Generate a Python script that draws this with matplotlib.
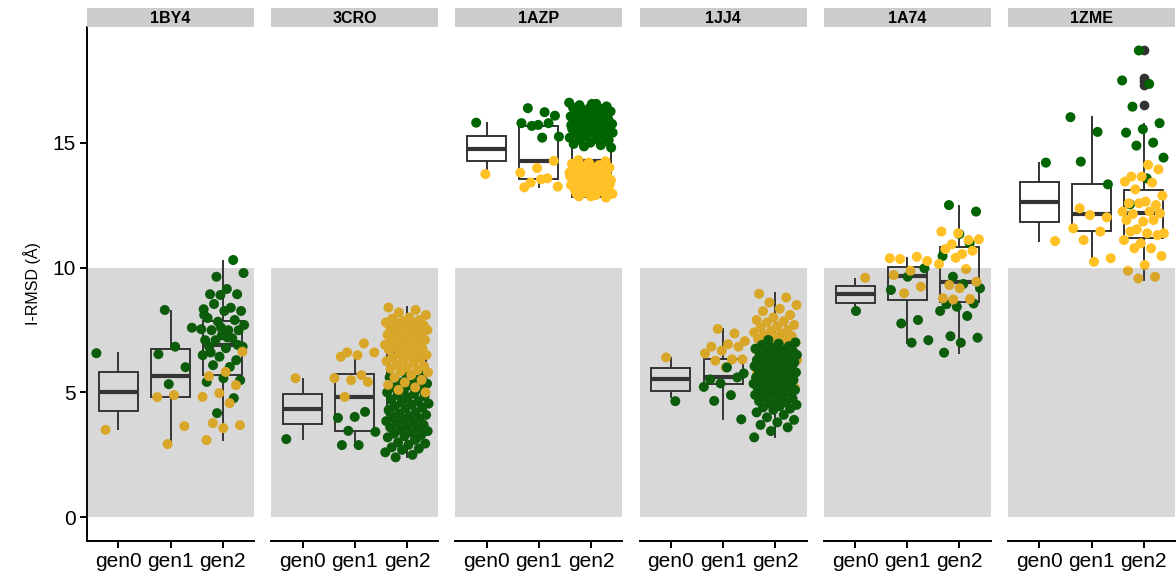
import numpy as np
import matplotlib
matplotlib.use('Agg')
import matplotlib.pyplot as plt

plt.rcParams['font.family'] = ['Liberation Sans', 'DejaVu Sans']

# 面板与分组
panels = ['1BY4', '3CRO', '1AZP', '1JJ4', '1A74', '1ZME']
gens = ['gen0', 'gen1', 'gen2']

# 箱线图统计量 (q1, median, q3, whisker low, whisker high)
box_1BY4 = [(4.25, 5.02, 5.80, 3.53, 6.57), (4.82, 5.65, 6.75, 2.93, 8.26), (5.68, 6.90, 7.86, 3.09, 10.26)]
box_3CRO = [(3.75, 4.34, 4.92, 3.15, 5.53), (3.45, 4.82, 5.73, 2.86, 6.29), (4.09, 5.17, 6.57, 2.42, 8.43)]
box_1AZP = [(14.27, 14.75, 15.27, 13.74, 15.78), (13.55, 14.27, 15.68, 13.24, 15.68), (12.84, 14.28, 15.80, 12.80, 16.65)]
box_1JJ4 = [(5.06, 5.52, 5.96, 4.80, 6.39), (5.32, 5.62, 6.33, 3.92, 7.52), (4.85, 5.70, 6.60, 3.22, 8.97)]
box_1A74 = [(8.56, 8.92, 9.26, 8.26, 9.56), (8.70, 9.67, 10.03, 6.99, 10.37), (8.63, 9.41, 10.83, 6.56, 12.46)]
box_1ZME = [(11.81, 12.64, 13.41, 11.06, 14.18), (11.48, 12.13, 13.33, 10.23, 16.02), (11.17, 12.20, 13.10, 9.50, 15.74)]
outliers_1ZME_gen2 = [16.5, 17.3, 17.45, 17.6, 18.7]

# 散点 (绿色 / 金色), 每个面板按 gen0, gen1, gen2
green_1BY4 = [[6.57],
              [8.3, 7.59, 6.83, 6.53, 6.01, 5.33],
              [10.3, 9.63, 9.78, 9.14, 8.93, 8.93, 8.9, 8.33, 8.39, 8.54, 8.26, 8.26, 7.98, 7.9, 7.83,
               7.53, 7.49, 7.49, 7.49, 7.29, 7.09, 7.17, 7.09, 6.83, 6.77, 6.83, 6.29, 6.43, 6.49, 6.02,
               6.09, 5.49, 5.57, 5.42, 4.77, 4.17, 7.7, 7.2, 6.6, 6.9, 7.6, 8.1]]
gold_1BY4 = [[3.5],
             [4.89, 4.81, 3.65, 2.93],
             [6.63, 5.82, 5.65, 5.29, 4.97, 4.82, 4.57, 3.77, 3.69, 3.57, 3.09]]

green_3CRO = [[3.13],
              [4.02, 3.98, 4.22, 3.46, 3.42, 2.89, 2.89],
              [5.8, 5.7, 5.6, 5.5, 5.4, 5.35, 5.3, 5.2, 5.15, 5.1, 5.0, 4.95, 4.9, 4.85, 4.8, 4.7, 4.65,
               4.6, 4.55, 4.5, 4.45, 4.4, 4.35, 4.3, 4.2, 4.15, 4.1, 4.05, 4.0, 3.95, 3.9, 3.85, 3.8,
               3.75, 3.7, 3.65, 3.6, 3.55, 3.5, 3.45, 3.4, 3.35, 3.3, 3.25, 3.2, 3.1, 3.0, 2.95, 2.9,
               2.8, 2.75, 2.7, 2.6, 2.5, 2.4, 5.25, 4.75, 4.25, 3.15]]
gold_3CRO = [[5.57],
             [6.96, 6.6, 6.6, 6.49, 6.43, 5.42, 5.49, 5.57, 5.69, 4.82],
             [8.4, 8.3, 8.2, 8.1, 8.0, 7.95, 7.9, 7.85, 7.8, 7.8, 7.75, 7.7, 7.7, 7.6, 7.55, 7.5, 7.5,
              7.45, 7.4, 7.35, 7.3, 7.3, 7.2, 7.15, 7.1, 7.05, 7.0, 7.0, 6.95, 6.9, 6.85, 6.8, 6.75,
              6.7, 6.7, 6.6, 6.55, 6.5, 6.45, 6.4, 6.35, 6.3, 6.25, 6.2, 6.1, 6.05, 6.0, 5.95, 5.9,
              5.85, 5.8, 5.7, 5.6, 5.5, 5.4, 5.3, 5.2, 5.1, 5.0]]

green_1AZP = [[15.8],
              [16.22, 16.38, 16.08, 15.71, 15.78, 15.78, 15.67, 15.24, 15.2],
              [16.6, 16.55, 16.5, 16.45, 16.4, 16.4, 16.35, 16.3, 16.25, 16.2, 16.2, 16.15,
               16.1, 16.05, 16.0, 16.0, 15.95, 15.9, 15.85, 15.8, 15.8, 15.75, 15.7,
               15.65, 15.6, 15.6, 15.55, 15.5, 15.45, 15.4, 15.4, 15.35, 15.3, 15.25, 15.2,
               15.15, 15.1, 15.05, 15.0, 14.95, 14.9, 14.85, 14.8, 16.45, 16.3, 16.1,
               15.9, 15.7, 15.5, 15.3, 15.1, 16.55, 16.0, 15.8, 15.6, 15.4]]
gold_1AZP = [[13.74],
             [14.27, 13.98, 13.8, 13.57, 13.4, 13.24, 13.53, 13.21],
             [14.3, 14.25, 14.2, 14.15, 14.1, 14.05, 14.0, 14.0, 13.95, 13.9, 13.85,
              13.8, 13.75, 13.7, 13.7, 13.65, 13.6, 13.55, 13.5, 13.5, 13.45, 13.4,
              13.35, 13.3, 13.3, 13.25, 13.2, 13.15, 13.1, 13.1, 13.05, 13.0, 12.95, 12.9,
              12.85, 12.8, 14.15, 13.95, 13.75, 13.55, 13.35, 13.15, 12.95, 14.05, 13.85, 13.65,
              13.45, 13.25, 13.05, 12.85]]

green_1JJ4 = [[4.65],
              [5.76, 6.0, 5.52, 5.6, 5.36, 5.22, 4.89, 4.66, 3.92],
              [7.1, 7.0, 6.95, 6.9, 6.85, 6.8, 6.75, 6.7, 6.7, 6.65, 6.6, 6.6, 6.55, 6.5, 6.5, 6.45,
               6.4, 6.4, 6.35, 6.3, 6.3, 6.25, 6.2, 6.2, 6.15, 6.1, 6.1, 6.05, 6.0, 6.0, 5.95, 5.9, 5.9,
               5.85, 5.8, 5.8, 5.75, 5.7, 5.7, 5.65, 5.6, 5.6, 5.55, 5.5, 5.5, 5.45, 5.4, 5.4, 5.35,
               5.3, 5.3, 5.25, 5.2, 5.2, 5.15, 5.1, 5.1, 5.05, 5.0, 5.0, 4.95, 4.9, 4.85, 4.8, 4.75,
               4.7, 4.65, 4.6, 4.55, 4.5, 4.45, 4.4, 4.35, 4.3, 4.2, 4.1, 4.0, 3.9, 3.8, 3.7, 3.6,
               3.45, 3.2]]
gold_1JJ4 = [[6.4],
             [7.36, 7.54, 7.05, 6.93, 6.83, 6.83, 6.67, 6.56, 6.32, 6.27, 6.32, 6.0],
             [8.95, 8.8, 8.6, 8.5, 8.35, 8.25, 8.1, 8.0, 7.9, 7.85, 7.8, 7.7, 7.65, 7.6, 7.5, 7.45,
              7.4, 7.35, 7.3, 7.25, 7.2, 7.15, 7.1, 7.05, 7.0, 6.95, 6.9, 6.85, 6.8, 6.75, 6.7, 6.65,
              6.6, 6.55, 6.5, 6.45, 6.4, 6.3, 6.2, 6.1, 6.0, 5.9, 5.8, 5.6, 5.4, 5.2, 5.0]]

green_1A74 = [[8.26],
              [9.97, 9.63, 9.1, 7.9, 7.76, 7.09, 6.99],
              [12.5, 12.24, 11.34, 10.46, 10.97, 9.63, 9.17, 9.34, 8.53, 8.56, 8.43, 8.26, 8.06, 7.25,
               7.19, 6.99, 6.59]]
gold_1A74 = [[9.59],
             [10.37, 10.43, 10.34, 10.26, 9.87, 9.7, 9.23, 8.97],
             [11.37, 11.44, 11.1, 10.93, 11.13, 10.54, 10.74, 10.67, 10.39, 10.14, 9.94, 9.3, 9.43,
              9.17, 8.77, 8.74, 8.72]]

green_1ZME = [[14.2],
              [16.02, 15.43, 14.24, 13.33],
              [18.69, 17.49, 17.35, 16.44, 15.78, 15.54, 15.4, 15.0, 14.88, 14.4, 13.57, 12.53]]
gold_1ZME = [[11.06],
             [12.37, 12.01, 12.1, 11.57, 11.44, 11.1, 10.37, 10.23],
             [14.11, 13.64, 13.93, 13.64, 13.44, 13.4, 13.13, 12.88, 12.64, 12.57, 12.5, 12.57, 12.24,
              12.24, 12.14, 12.17, 11.84, 11.9, 11.9, 11.53, 11.37, 11.37, 11.44, 11.3, 10.97, 11.1,
              10.77, 10.77, 10.46, 10.1, 9.87, 9.63, 9.56]]

box_all = [box_1BY4, box_3CRO, box_1AZP, box_1JJ4, box_1A74, box_1ZME]
green_all = [green_1BY4, green_3CRO, green_1AZP, green_1JJ4, green_1A74, green_1ZME]
gold_all = [gold_1BY4, gold_3CRO, gold_1AZP, gold_1JJ4, gold_1A74, gold_1ZME]
gold_on_top = [True, True, True, False, True, True]

GREEN = '#006400'
GOLD = '#FFC125'
LINE = '#333333'


def jitter(n, phase):
    # 确定性抖动, 范围 ±0.42
    k = np.arange(n)
    return ((k * 0.6180339887 + phase) % 1.0 - 0.5) * 0.84


W, H = 1176, 582
fig = plt.figure(figsize=(W / 100, H / 100), dpi=100)
left0, pw, gap = 87, 167, 17.2
top, bottom = 27, 541

for i, name in enumerate(panels):
    x0 = left0 + i * (pw + gap)
    ax = fig.add_axes([x0 / W, (H - bottom) / H, pw / W, (bottom - top) / H])
    st = fig.add_axes([x0 / W, (H - top) / H, pw / W, 19 / H])
    st.set_facecolor('#CCCCCC')
    st.set_xticks([])
    st.set_yticks([])
    for s in st.spines.values():
        s.set_visible(False)
    st.text(0.5, 0.45, name, ha='center', va='center', fontsize=11.5, fontweight='bold',
            transform=st.transAxes)

    # 箱线图
    stats = []
    for j, (q1, med, q3, lo, hi) in enumerate(box_all[i]):
        fl = outliers_1ZME_gen2 if (name == '1ZME' and j == 2) else []
        stats.append(dict(q1=q1, med=med, q3=q3, whislo=lo, whishi=hi, fliers=fl))
    ax.bxp(stats, positions=[1, 2, 3], widths=0.75, showcaps=False, patch_artist=True,
           boxprops=dict(facecolor='white', edgecolor=LINE, linewidth=1.4),
           whiskerprops=dict(color=LINE, linewidth=1.4),
           medianprops=dict(color=LINE, linewidth=3),
           flierprops=dict(marker='o', markerfacecolor=LINE, markeredgecolor='none', markersize=7),
           zorder=2)

    # 散点
    layers = [(green_all[i], GREEN), (gold_all[i], GOLD)]
    if not gold_on_top[i]:
        layers = layers[::-1]
    for li, (groups, col) in enumerate(layers):
        for j, vals in enumerate(groups):
            xs = (j + 1) + jitter(len(vals), 0.13 * i + 0.37 * j + 0.21 * li)
            ax.scatter(xs, vals, s=52, color=col, edgecolors='none', zorder=3)

    # 灰色区域 (0-10), 叠加在点上
    ax.axhspan(0, 10, facecolor='#404040', alpha=0.2, lw=0, zorder=5)

    ax.set_xlim(0.4, 3.6)
    ax.set_ylim(-0.95, 19.63)
    ax.set_xticks([1, 2, 3])
    ax.set_xticklabels(gens)
    ax.spines['top'].set_visible(False)
    ax.spines['right'].set_visible(False)
    ax.spines['bottom'].set_linewidth(1.4)
    ax.tick_params(axis='x', length=5, width=1.4, labelsize=15, pad=3)
    if i == 0:
        ax.spines['left'].set_linewidth(1.4)
        ax.set_yticks([0, 5, 10, 15])
        ax.tick_params(axis='y', length=5, width=1.4, labelsize=15, pad=3)
        ax.set_ylabel('I-RMSD (Å)', fontsize=11.5, labelpad=8)
    else:
        ax.spines['left'].set_visible(False)
        ax.set_yticks([])

fig.savefig('out.png', dpi=100)
